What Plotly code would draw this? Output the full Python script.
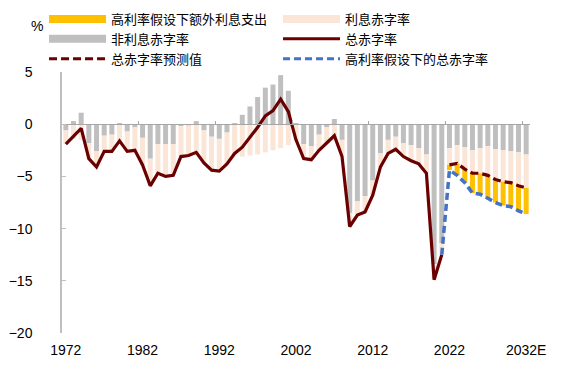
import plotly.graph_objects as go

years = list(range(1972, 2033))
tick_years = [1972, 1982, 1992, 2002, 2012, 2022, 2032]
tick_text = ["1972", "1982", "1992", "2002", "2012", "2022", "2032E"]
boundary_ticks = [1971.5, 1981.5, 1991.5, 2001.5, 2011.5, 2021.5, 2031.5]

# 非利息赤字率 (primary balance, % of GDP)
primary = [-0.6, 0.3, 1.1, -1.8, -2.6, -1.1, -1.0, 0.1, -0.7, -0.3,
           -1.3, -3.3, -1.9, -1.9, -1.9, -0.2, -0.1, 0.3, -0.6, -1.2,
           -1.4, -0.8, 0.1, 0.9, 1.7, 2.6, 3.5, 3.8, 4.7, 3.2,
           0.1, -1.9, -2.1, -1.0, -0.3, 0.5, -1.5, -8.5, -7.4, -6.9,
           -5.4, -2.8, -1.5, -1.2, -1.8, -2.0, -2.3, -2.9, -13.4, -11.4,
           -2.3, -2.0, -2.2, -2.5, -2.3, -2.1, -2.4, -2.5, -2.6, -2.7, -2.9]
# 利息赤字率 (net interest, % of GDP)
interest = [-1.3, -1.4, -1.5, -1.5, -1.5, -1.5, -1.6, -1.7, -1.9, -2.2,
            -2.6, -2.6, -2.8, -3.1, -3.0, -2.9, -2.9, -3.0, -3.1, -3.2,
            -3.1, -3.0, -2.9, -3.1, -3.0, -2.9, -2.7, -2.5, -2.3, -2.0,
            -1.6, -1.4, -1.3, -1.5, -1.5, -1.6, -1.6, -1.3, -1.3, -1.5,
            -1.4, -1.3, -1.3, -1.2, -1.3, -1.5, -1.5, -1.8, -1.5, -1.1,
            -1.6, -1.75, -2.1, -2.2, -2.4, -2.8, -2.9, -3.0, -3.0, -3.2, -3.2]
# 高利率假设下额外利息支出 (forecast years only)
extra_years = list(range(2022, 2033))
extra_interest = [-0.5, -1.15, -1.3, -1.9, -2.0, -2.2, -2.2, -2.3, -2.3, -2.4, -2.5]

# 总赤字率 (actual)
hist_years = list(range(1972, 2022))
total_deficit = [-1.9, -1.1, -0.4, -3.3, -4.1, -2.6, -2.6, -1.6, -2.6, -2.5,
                 -3.9, -5.9, -4.7, -5.0, -4.9, -3.1, -3.0, -2.7, -3.7, -4.4,
                 -4.5, -3.8, -2.8, -2.2, -1.3, -0.3, 0.8, 1.3, 2.4, 1.2,
                 -1.5, -3.3, -3.4, -2.5, -1.8, -1.1, -3.1, -9.8, -8.7, -8.4,
                 -6.8, -4.1, -2.8, -2.4, -3.1, -3.5, -3.8, -4.7, -14.9, -12.5]
# 总赤字率预测值
proj_years = list(range(2022, 2033))
proj_deficit = [-3.9, -3.75, -4.3, -4.7, -4.7, -4.9, -5.3, -5.5, -5.6, -5.9, -6.1]
# 高利率假设下的总赤字率
high_years = list(range(2021, 2033))
high_deficit = [-12.5, -4.4, -4.9, -5.6, -6.6, -6.7, -7.1, -7.5, -7.8, -7.9, -8.3, -8.6]

YELLOW = "#FFC000"
PINK = "#FBE5D6"
GRAY = "#BFBFBF"
DARKRED = "#6B0000"
BLUE = "#4472C4"
AXIS = "#A6A6A6"

fig = go.Figure()
fig.add_bar(x=years, y=primary, marker_color=GRAY, marker_line_width=0,
            name="非利息赤字率", showlegend=False)
fig.add_bar(x=years, y=interest, marker_color=PINK, marker_line_width=0,
            name="利息赤字率", showlegend=False)
fig.add_bar(x=extra_years, y=extra_interest, marker_color=YELLOW, marker_line_width=0,
            name="高利率假设下额外利息支出", showlegend=False)
fig.add_scatter(x=hist_years, y=total_deficit, mode="lines",
                line=dict(color=DARKRED, width=3.2), showlegend=False)
fig.add_scatter(x=proj_years, y=proj_deficit, mode="lines",
                line=dict(color=DARKRED, width=3.2, dash="8px,4px"), showlegend=False)
fig.add_scatter(x=high_years, y=high_deficit, mode="lines",
                line=dict(color=BLUE, width=3.5, dash="7px,4px"), showlegend=False)

# legend entries (order gives two columns, three rows)
legend_items = [
    ("高利率假设下额外利息支出", YELLOW, 8, "solid"),
    ("利息赤字率", PINK, 8, "solid"),
    ("非利息赤字率", GRAY, 8, "solid"),
    ("总赤字率", DARKRED, 3, "solid"),
    ("总赤字率预测值", DARKRED, 3, "8px,4px"),
    ("高利率假设下的总赤字率", BLUE, 3, "7px,4px"),
]
for name, color, w, dash in legend_items:
    fig.add_scatter(x=[None], y=[None], mode="lines", name=name,
                    line=dict(color=color, width=w, dash=dash), showlegend=True)

fig.update_layout(
    width=565, height=370,
    margin=dict(l=62, r=35, t=72, b=37, autoexpand=False),
    paper_bgcolor="white", plot_bgcolor="white",
    barmode="relative", bargap=0.35,
    font=dict(family="Liberation Sans, Arial, Noto Sans CJK SC", size=14, color="#000000"),
    legend=dict(
        orientation="h", xref="paper", yref="paper",
        x=-0.0384, y=1.2605, xanchor="left", yanchor="top",
        entrywidth=162, entrywidthmode="pixels", itemwidth=57,
        font=dict(family="Noto Sans CJK SC", size=13, color="#000000"),
        bgcolor="rgba(0,0,0,0)", tracegroupgap=0,
    ),
    xaxis=dict(
        range=[1971.5, 2032.5], tickmode="array", tickvals=tick_years, ticktext=tick_text,
        showline=False, ticks="", showgrid=False, zeroline=False,
        ticklabelstandoff=7,
        tickfont=dict(family="Liberation Sans, Arial", size=14),
    ),
    xaxis2=dict(
        overlaying="x", anchor="free", position=0.8, side="bottom",
        range=[1971.5, 2032.5], tickmode="array", tickvals=boundary_ticks,
        showticklabels=False, ticks="inside", ticklen=3, tickcolor=AXIS,
        showline=True, linecolor=AXIS, linewidth=1, showgrid=False, zeroline=False,
    ),
    yaxis=dict(
        range=[-20, 5], tickmode="linear", tick0=-20, dtick=5,
        showline=True, linecolor="#BFBFBF", linewidth=1.5,
        ticks="inside", ticklen=4, tickcolor="#BFBFBF",
        showgrid=False, zeroline=False, ticklabelstandoff=25,
        tickfont=dict(family="Liberation Sans, Arial", size=14),
    ),
    annotations=[dict(text="%", xref="paper", yref="paper", x=-0.053, y=1.0,
                      xanchor="center", yanchor="middle", showarrow=False,
                      font=dict(family="Liberation Sans, Arial", size=14),
                      yshift=46)],
)
# put a dummy trace on xaxis2 so it is rendered
fig.add_scatter(x=[None], y=[None], xaxis="x2", showlegend=False)

fig.write_html("out.html", config={"displayModeBar": False},
               post_script="document.body.style.margin='0';")
